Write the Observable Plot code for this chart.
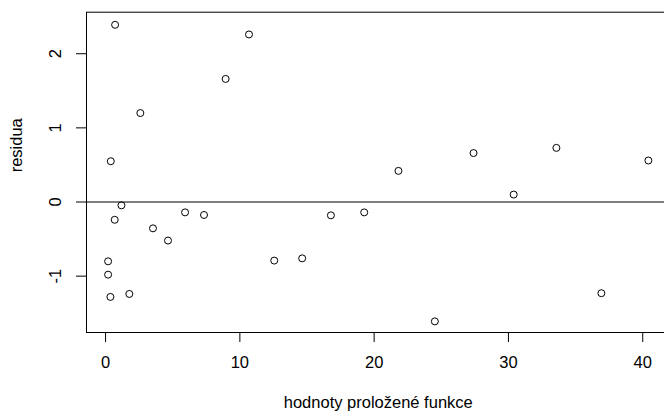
<!DOCTYPE html>
<html>
<head>
<meta charset="utf-8">
<script src="https://cdn.jsdelivr.net/npm/d3@7"></script>
<script src="https://cdn.jsdelivr.net/npm/@observablehq/plot@0.6"></script>
<style>
html, body { margin: 0; padding: 0; background: #fff; overflow: hidden; }
#wrap { width: 664px; height: 414px; overflow: hidden; }
#wrap svg { max-width: none !important; }
</style>
</head>
<body>
<div id="wrap"></div>
<script>
const fitted = [0.71, 10.68, 8.94, 2.59, 0.39, 1.18, 21.81, 27.40, 33.57, 40.42, 30.39,
  0.68, 5.92, 7.33, 3.53, 4.65, 0.19, 0.19, 0.36, 1.77, 12.56, 14.64, 16.78, 19.26, 24.52, 36.92];
const residuals = [2.39, 2.26, 1.66, 1.20, 0.55, -0.045, 0.42, 0.66, 0.73, 0.56, 0.10,
  -0.24, -0.14, -0.175, -0.355, -0.52, -0.80, -0.98, -1.28, -1.24, -0.79, -0.76, -0.18, -0.14, -1.61, -1.23];
const xTicks = [0, 10, 20, 30, 40];
const yTicks = [-1, 0, 1, 2];
const yTickLabels = ["-1", "0", "1", "2"];
const xLabel = "hodnoty proložené funkce";
const yLabel = "residua";

const data = fitted.map((f, i) => ({fitted: f, resid: residuals[i]}));
const W = 672, H = 414;
const FS = 16.5;
const font = "Liberation Sans, Arial, Helvetica, sans-serif";

const chart = Plot.plot({
  width: W,
  height: H,
  marginLeft: 86,
  marginRight: W - 669.5,
  marginTop: 11.7,
  marginBottom: H - 332,
  style: {fontFamily: font, fontSize: FS + "px", color: "black", background: "white", maxWidth: "none"},
  x: {domain: [-1.42, 42.03], range: [86, 669.5]},
  y: {domain: [-1.76, 2.56], range: [332, 11.7]},
  marks: [
    Plot.ruleY([0], {stroke: "black", strokeWidth: 1}),
    Plot.dot(data, {x: "fitted", y: "resid", r: 3.5, stroke: "black", fill: "none", strokeWidth: 1}),
    Plot.frame({stroke: "black", strokeWidth: 1}),
    Plot.axisX({ticks: xTicks, tickSize: 10, tickPadding: 14, tickFormat: d => String(d), label: null, fontSize: FS, stroke: "black"}),
    Plot.axisY({ticks: yTicks, tickSize: 10, tickFormat: () => "", label: null, stroke: "black"}),
    Plot.text(yTicks, {y: d => d, text: (d, i) => yTickLabels[i], frameAnchor: "left", dx: -31, rotate: -90, textAnchor: "middle", lineAnchor: "middle", fontSize: FS, fill: "black"}),
    Plot.text([xLabel], {text: d => d, frameAnchor: "bottom", dy: 70.5, lineAnchor: "middle", fontSize: FS, fill: "black"}),
    Plot.text([yLabel], {text: d => d, frameAnchor: "left", dx: -70, rotate: -90, lineAnchor: "middle", fontSize: FS, fill: "black"})
  ]
});
chart.style.maxWidth = "none";
document.getElementById("wrap").appendChild(chart);
</script>
</body>
</html>
